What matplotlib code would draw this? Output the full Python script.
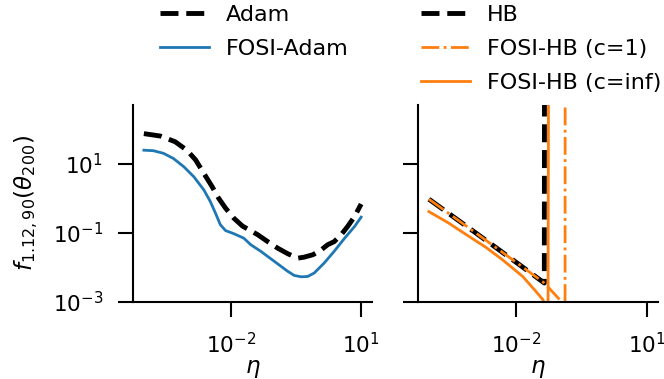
import numpy as np
import matplotlib
matplotlib.use("Agg")
import matplotlib.pyplot as plt
from matplotlib.ticker import NullLocator

# --- Data, as log10 values ---
adam_log_eta = [-4.0, -3.62, -3.28, -3.01, -2.81, -2.62, -2.43, -2.28, -2.12, -1.93,
                -1.73, -1.38, -1.15, -0.92, -0.69, -0.46, -0.31, -0.11, 0.08, 0.23,
                0.38, 0.54, 0.69, 0.85, 1.0]
adam_log_loss = [1.88, 1.81, 1.645, 1.40, 1.12, 0.73, 0.345, 0.01, -0.28, -0.57,
                 -0.80, -1.05, -1.25, -1.44, -1.60, -1.73, -1.70, -1.63, -1.49, -1.34,
                 -1.25, -1.05, -0.81, -0.52, -0.16]

fosi_adam_log_eta = [-4.0, -3.78, -3.55, -3.32, -3.08, -2.85, -2.62, -2.47, -2.35, -2.24,
                     -2.12, -1.93, -1.70, -1.54, -1.31, -1.0, -0.69, -0.54, -0.38, -0.23,
                     -0.08, 0.15, 0.38, 0.62, 0.85, 1.0]
fosi_adam_log_loss = [1.40, 1.385, 1.31, 1.16, 0.92, 0.63, 0.25, -0.09, -0.43, -0.76,
                      -0.93, -1.02, -1.15, -1.34, -1.53, -1.82, -2.11, -2.23, -2.27, -2.26,
                      -2.16, -1.87, -1.53, -1.15, -0.81, -0.54]

# diverged runs are stored as a huge value (log10 = 6)
hb_log_eta = [-4.0, -3.0, -2.0, -1.355, -1.35]
hb_log_loss = [-0.02, -0.93, -1.85, -2.45, 6]

fosi_hb1_log_eta = [-4.0, -3.0, -2.0, -1.355, -0.88, -0.876]
fosi_hb1_log_loss = [-0.02, -0.93, -1.85, -2.45, -3.1, 6]

fosi_hbinf_log_eta = [-4.0, -3.55, -3.08, -2.70, -2.32, -1.85, -1.55, -1.39, -1.27, -1.255]
fosi_hbinf_log_loss = [-0.38, -0.71, -1.10, -1.41, -1.77, -2.26, -2.69, -2.93, -3.3, 6]

black = "#000000"
blue = "#1f77b4"
orange = "#ff7f0e"

plt.rcParams["font.family"] = "DejaVu Sans"
plt.rcParams["mathtext.fontset"] = "dejavusans"

fig = plt.figure(figsize=(6.64, 3.79), dpi=100)
W, H = 664, 379
ax1 = fig.add_axes([133 / W, 1 - 302 / H, 239 / W, 197 / H])
ax2 = fig.add_axes([418 / W, 1 - 302 / H, 240 / W, 197 / H])


def p(v):
    return 10.0 ** np.array(v)


ax1.plot(p(adam_log_eta), p(adam_log_loss), color=black, lw=3.5, ls="--", label="Adam")
ax1.plot(p(fosi_adam_log_eta), p(fosi_adam_log_loss), color=blue, lw=2.0, label="FOSI-Adam")

ax2.plot(p(hb_log_eta), p(hb_log_loss), color=black, lw=3.5, ls="--", label="HB")
ax2.plot(p(fosi_hb1_log_eta), p(fosi_hb1_log_loss), color=orange, lw=2.0, ls="-.",
         label="FOSI-HB (c=1)")
ax2.plot(p(fosi_hbinf_log_eta), p(fosi_hbinf_log_loss), color=orange, lw=2.0,
         label="FOSI-HB (c=inf)")

for ax in (ax1, ax2):
    ax.set_xscale("log")
    ax.set_yscale("log")
    ax.set_xlim(10**-4.25, 10**1.25)
    ax.set_ylim(1e-3, 10**2.71)
    ax.set_xticks([1e-2, 1e1])
    ax.set_yticks([1e-3, 1e-1, 1e1])
    ax.xaxis.set_minor_locator(NullLocator())
    ax.yaxis.set_minor_locator(NullLocator())
    for side in ("top", "right"):
        ax.spines[side].set_visible(False)
    for side in ("left", "bottom"):
        ax.spines[side].set_linewidth(1.5)
    ax.tick_params(length=10.5, width=1.5, labelsize=15.5, pad=11)
    ax.set_xlabel(r"$\eta$", fontsize=16.5, labelpad=0)

ax2.tick_params(labelleft=False)
ax1.set_ylabel(r"$f_{1.12,90}(\theta_{200})$", fontsize=16.5, labelpad=9)

leg_kw = dict(frameon=False, fontsize=16, handlelength=2.2, handletextpad=0.75,
              labelspacing=0.62, borderpad=0, borderaxespad=0, loc="upper left")
fig.legend(*ax1.get_legend_handles_labels(), bbox_to_anchor=(160 / W, 1 - 5 / H), **leg_kw)
fig.legend(*ax2.get_legend_handles_labels(), bbox_to_anchor=(421 / W, 1 - 5 / H), **leg_kw)

fig.savefig("out.png", dpi=100)
